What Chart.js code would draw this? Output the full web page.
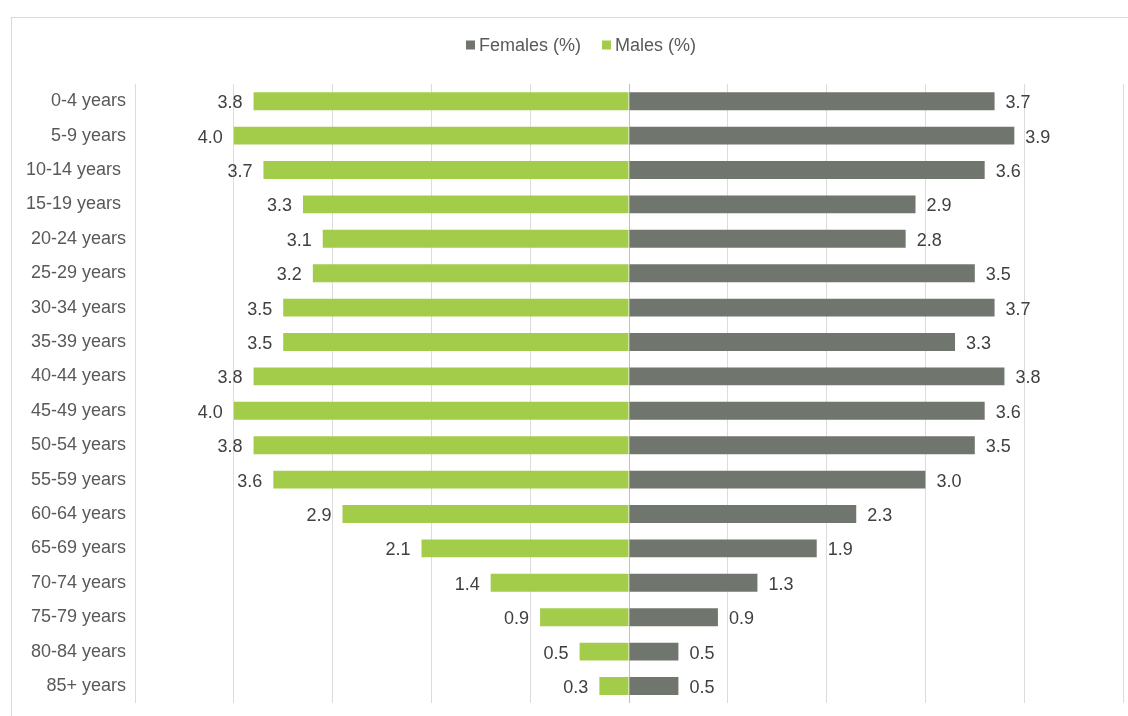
<!DOCTYPE html>
<html>
<head>
<meta charset="utf-8">
<title>Population by age group</title>
<script src="https://cdn.jsdelivr.net/npm/chart.js@4.4.0/dist/chart.umd.min.js"></script>
<style>
  html, body { margin: 0; padding: 0; background: #fff; overflow: hidden; }
  #wrap { position: relative; width: 1128px; height: 716px; overflow: hidden; }
  #frame { position: absolute; left: 11px; top: 17px; width: 1200px; height: 800px; border: 1px solid #d9d9d9; }
  #pyramid { position: absolute; left: 0; top: 0; }
</style>
</head>
<body>
<div id="wrap">
  <div id="frame"></div>
  <!-- canvas a bit taller than the window so the plot reaches the lower edge like the original -->
  <canvas id="pyramid" width="1128" height="723"></canvas>
</div>
<script>
// Age groups, top to bottom (two carry a trailing space, as in the source sheet)
const ageGroups = [
  '0-4 years', '5-9 years', '10-14 years ', '15-19 years ', '20-24 years', '25-29 years',
  '30-34 years', '35-39 years', '40-44 years', '45-49 years', '50-54 years', '55-59 years',
  '60-64 years', '65-69 years', '70-74 years', '75-79 years', '80-84 years', '85+ years'
];
const femalesPct = [3.7, 3.9, 3.6, 2.9, 2.8, 3.5, 3.7, 3.3, 3.8, 3.6, 3.5, 3.0, 2.3, 1.9, 1.3, 0.9, 0.5, 0.5];
const malesPct   = [3.8, 4.0, 3.7, 3.3, 3.1, 3.2, 3.5, 3.5, 3.8, 4.0, 3.8, 3.6, 2.9, 2.1, 1.4, 0.9, 0.5, 0.3];
const seriesNames = ['Females (%)', 'Males (%)'];
const seriesColors = ['#70756e', '#a3cc4b'];
const axisMin = -5, axisMax = 5;

const fontFamily = '"Liberation Sans", Arial, sans-serif';
const labelFont = '18px ' + fontFamily;

// Value labels at the end of each bar
const barLabels = {
  id: 'barLabels',
  afterDatasetsDraw(chart) {
    const ctx = chart.ctx;
    ctx.save();
    ctx.font = labelFont;
    ctx.fillStyle = '#404040';
    ctx.textBaseline = 'middle';
    chart.data.datasets.forEach((ds, i) => {
      chart.getDatasetMeta(i).data.forEach((bar, j) => {
        const v = ds.data[j];
        const txt = Math.abs(v).toFixed(1);
        if (v < 0) {
          ctx.textAlign = 'right';
          ctx.fillText(txt, bar.x - 11, bar.y + 2);
        } else {
          ctx.textAlign = 'left';
          ctx.fillText(txt, bar.x + 11, bar.y + 2);
        }
      });
    });
    ctx.restore();
  }
};

// Legend centred above the plot
const topLegend = {
  id: 'topLegend',
  afterDraw(chart) {
    const ctx = chart.ctx;
    ctx.save();
    ctx.font = labelFont;
    const items = chart.data.datasets.map(ds => ({
      text: ds.label, color: ds.backgroundColor, w: ctx.measureText(ds.label).width
    }));
    const box = 9, gap = 4, spacing = 21;
    const total = items.reduce((s, it) => s + box + gap + it.w, 0) + spacing * (items.length - 1);
    let x = 581 - total / 2;
    const y = 45;
    items.forEach(it => {
      ctx.fillStyle = it.color;
      ctx.fillRect(x, y - 4.5, box, box);
      x += box + gap;
      ctx.fillStyle = '#595959';
      ctx.textAlign = 'left';
      ctx.textBaseline = 'middle';
      ctx.fillText(it.text, x, y + 1);
      x += it.w + spacing;
    });
    ctx.restore();
  }
};

new Chart(document.getElementById('pyramid'), {
  type: 'bar',
  data: {
    labels: ageGroups,
    datasets: [
      { label: seriesNames[0], data: femalesPct, backgroundColor: seriesColors[0] },
      { label: seriesNames[1], data: malesPct.map(v => -v), backgroundColor: seriesColors[1] }
    ]
  },
  options: {
    indexAxis: 'y',
    responsive: false,
    animation: false,
    devicePixelRatio: 1,
    layout: { padding: { top: 84, right: 5, bottom: 7, left: 0 } },
    datasets: { bar: { barPercentage: 0.52, categoryPercentage: 1.0 } },
    scales: {
      x: {
        type: 'linear',
        min: axisMin,
        max: axisMax,
        stacked: true,
        ticks: { display: false, stepSize: 1 },
        grid: {
          drawTicks: false,
          lineWidth: 1,
          color: c => (c.tick && c.tick.value === 0) ? '#bfbfbf' : '#dcdcdc'
        },
        border: { display: false },
        afterFit: s => { s.height = 0; }
      },
      y: {
        stacked: true,
        grid: { display: false, drawTicks: false },
        border: { display: false },
        ticks: { color: '#595959', font: { family: fontFamily, size: 18 }, padding: 9 },
        afterFit: s => { s.width = 135; }
      }
    },
    plugins: {
      legend: { display: false },
      tooltip: { enabled: false }
    }
  },
  plugins: [barLabels, topLegend]
});
</script>
</body>
</html>
